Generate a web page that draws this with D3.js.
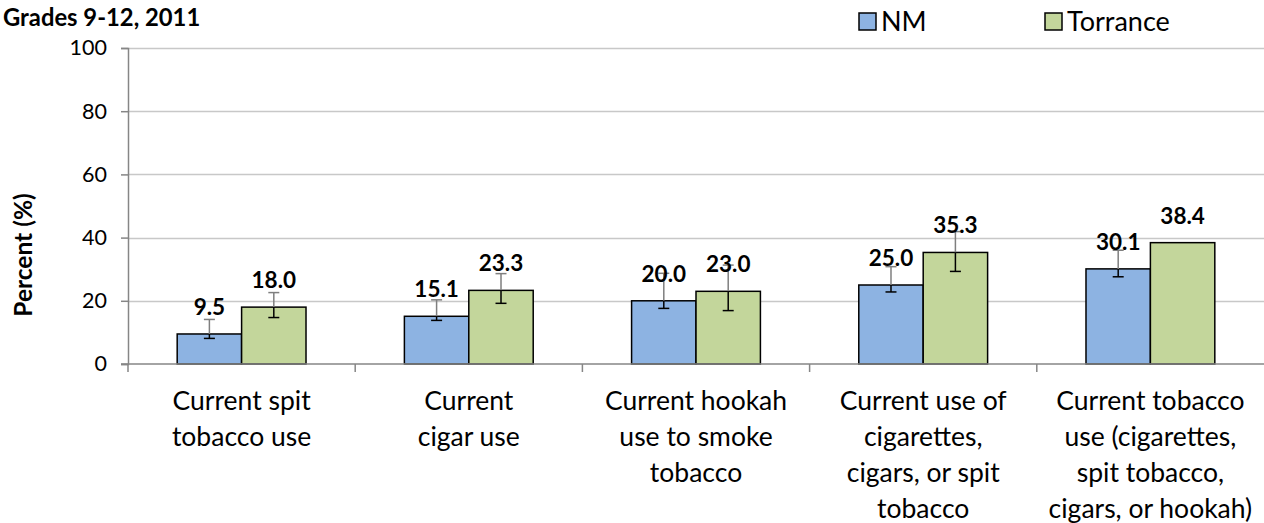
<!DOCTYPE html>
<html>
<head>
<meta charset="utf-8">
<script src="https://cdn.jsdelivr.net/npm/d3@7"></script>
<style>
  body { margin: 0; background: #fff; }
  svg { display: block; font-family: Lato, "Open Sans", sans-serif; }
</style>
</head>
<body>
<div id="chart"></div>
<script>
// chart data
var categories = [
    ["Current spit", "tobacco use"],
    ["Current", "cigar use"],
    ["Current hookah", "use to smoke", "tobacco"],
    ["Current use of", "cigarettes,", "cigars, or spit", "tobacco"],
    ["Current tobacco", "use (cigarettes,", "spit tobacco,", "cigars, or hookah)"]
];
var seriesNames = ["NM", "Torrance"];
var nmValues = [9.5, 15.1, 20.0, 25.0, 30.1];
var torranceValues = [18.0, 23.3, 23.0, 35.3, 38.4];
var nmLow = [8.1, 13.8, 17.6, 22.8, 27.6];
var nmHigh = [14.1, 20.3, 28.7, 30.8, 36.0];
var torranceLow = [14.7, 19.2, 16.9, 29.3, null];
var torranceHigh = [22.6, 28.6, 31.3, 41.9, null];
var yTicks = [0, 20, 40, 60, 80, 100];
var chartTitle = "Grades 9-12, 2011";
var yTitle = "Percent (%)";

var colors = {"NM": "#8db3e2", "Torrance": "#c3d69b"};

var divWidth = 1264, divHeight = 523;
var margin = {top: 48, right: 0, bottom: 159, left: 128};
var width = divWidth - margin.left - margin.right,
    height = divHeight - margin.top - margin.bottom;

var svg = d3.select("#chart").append("svg")
    .attr("width", divWidth)
    .attr("height", divHeight);

// build rows for drawing
var rows = categories.map(function(c, i) {
    return {
        idx: i,
        lines: c,
        bars: [
            {name: "NM", value: nmValues[i], lo: nmLow[i], hi: nmHigh[i]},
            {name: "Torrance", value: torranceValues[i], lo: torranceLow[i], hi: torranceHigh[i]}
        ]
    };
});

var x0 = d3.scaleBand()
    .domain(d3.range(categories.length))
    .range([0, width])
    .paddingInner(0.433)
    .paddingOuter(0.2165);

var x1 = d3.scaleBand()
    .domain(seriesNames)
    .range([0, x0.bandwidth()]);

var y = d3.scaleLinear().domain([0, 100]).range([height, 0]);

var g = svg.append("g")
    .attr("transform", "translate(" + margin.left + "," + margin.top + ")");

// gridlines
g.append("g")
    .selectAll("line")
    .data(yTicks.filter(function(d) { return d > 0; }))
    .enter().append("line")
    .attr("x1", 0).attr("x2", width)
    .attr("y1", function(d) { return Math.round(y(d)) + 0.5; })
    .attr("y2", function(d) { return Math.round(y(d)) + 0.5; })
    .attr("stroke", "#c8c8c8")
    .attr("stroke-width", 1.5);

// y axis
var yAxis = d3.axisLeft(y).tickValues(yTicks).tickSize(7).tickPadding(14);
var yg = g.append("g").call(yAxis);
yg.select(".domain").attr("stroke", "#868686").attr("stroke-width", 1.5);
yg.selectAll(".tick line").attr("stroke", "#868686").attr("stroke-width", 1.5);
yg.selectAll(".tick text")
    .attr("font-size", 21.5)
    .attr("fill", "#000")
    .attr("font-family", "Lato, sans-serif");

// bars
var groups = g.selectAll(".group")
    .data(rows)
    .enter().append("g")
    .attr("class", "group")
    .attr("transform", function(d) { return "translate(" + x0(d.idx) + ",0)"; });

groups.selectAll("rect")
    .data(function(d) { return d.bars; })
    .enter().append("rect")
    .attr("x", function(d) { return x1(d.name); })
    .attr("y", function(d) { return y(d.value); })
    .attr("width", x1.bandwidth())
    .attr("height", function(d) { return y(0) - y(d.value); })
    .attr("fill", function(d) { return colors[d.name]; })
    .attr("stroke", "#000")
    .attr("stroke-width", 1.5);

// error bars: upper part grey, lower part black (as in the picture)
var err = groups.selectAll(".err")
    .data(function(d) { return d.bars.filter(function(b) { return b.lo != null; }); })
    .enter().append("g")
    .attr("class", "err")
    .attr("transform", function(d) { return "translate(" + (x1(d.name) + x1.bandwidth() / 2) + ",0)"; });

err.append("line")
    .attr("x1", 0).attr("x2", 0)
    .attr("y1", function(d) { return y(d.hi); })
    .attr("y2", function(d) { return y(d.value); })
    .attr("stroke", "#7f7f7f").attr("stroke-width", 1.5);
err.append("line")
    .attr("x1", -5.5).attr("x2", 5.5)
    .attr("y1", function(d) { return y(d.hi); })
    .attr("y2", function(d) { return y(d.hi); })
    .attr("stroke", "#7f7f7f").attr("stroke-width", 1.5);
err.append("line")
    .attr("x1", 0).attr("x2", 0)
    .attr("y1", function(d) { return y(d.value); })
    .attr("y2", function(d) { return y(d.lo); })
    .attr("stroke", "#000").attr("stroke-width", 1.5);
err.append("line")
    .attr("x1", -5.5).attr("x2", 5.5)
    .attr("y1", function(d) { return y(d.lo); })
    .attr("y2", function(d) { return y(d.lo); })
    .attr("stroke", "#000").attr("stroke-width", 1.5);

// value labels
groups.selectAll(".val")
    .data(function(d) { return d.bars; })
    .enter().append("text")
    .attr("class", "val")
    .attr("x", function(d) { return x1(d.name) + x1.bandwidth() / 2; })
    .attr("y", function(d) { return y(d.value) - 19; })
    .attr("text-anchor", "middle")
    .attr("font-size", 22.5)
    .attr("font-weight", "bold")
    .text(function(d) { return d.value.toFixed(1); });

// x axis line and ticks
g.append("line")
    .attr("x1", -7).attr("x2", width)
    .attr("y1", y(0)).attr("y2", y(0))
    .attr("stroke", "#868686").attr("stroke-width", 1.5);

g.append("g")
    .selectAll("line")
    .data(d3.range(categories.length))
    .enter().append("line")
    .attr("x1", function(d) { return x0(d) - x0.step() * x0.paddingOuter(); })
    .attr("x2", function(d) { return x0(d) - x0.step() * x0.paddingOuter(); })
    .attr("y1", y(0)).attr("y2", y(0) + 8)
    .attr("stroke", "#868686").attr("stroke-width", 1.5);

// category labels
var catLabels = g.selectAll(".cat")
    .data(rows)
    .enter().append("text")
    .attr("class", "cat")
    .attr("text-anchor", "middle")
    .attr("font-size", 26.5)
    .attr("fill", "#000");

catLabels.selectAll("tspan")
    .data(function(d) {
        return d.lines.map(function(l) { return {text: l, cx: x0(d.idx) + x0.bandwidth() / 2}; });
    })
    .enter().append("tspan")
    .attr("x", function(d) { return d.cx; })
    .attr("y", function(d, i) { return y(0) + 46 + i * 36; })
    .text(function(d) { return d.text; });

// y title
svg.append("text")
    .attr("transform", "translate(32,255) rotate(-90)")
    .attr("text-anchor", "middle")
    .attr("font-size", 24.5)
    .attr("font-weight", "bold")
    .text(yTitle);

// chart title
svg.append("text")
    .attr("x", 3).attr("y", 26)
    .attr("font-size", 23.8)
    .attr("font-weight", "bold")
    .text(chartTitle);

// legend
var legendX = [859, 1045];
var legend = svg.selectAll(".legend")
    .data(seriesNames)
    .enter().append("g")
    .attr("class", "legend")
    .attr("transform", function(d, i) { return "translate(" + legendX[i] + ",13)"; });

legend.append("rect")
    .attr("width", 17).attr("height", 17)
    .attr("fill", function(d) { return colors[d]; })
    .attr("stroke", "#000")
    .attr("stroke-width", 1.5);

legend.append("text")
    .attr("x", 22).attr("y", 18)
    .attr("font-size", 27)
    .text(function(d) { return d; });
</script>
</body>
</html>
